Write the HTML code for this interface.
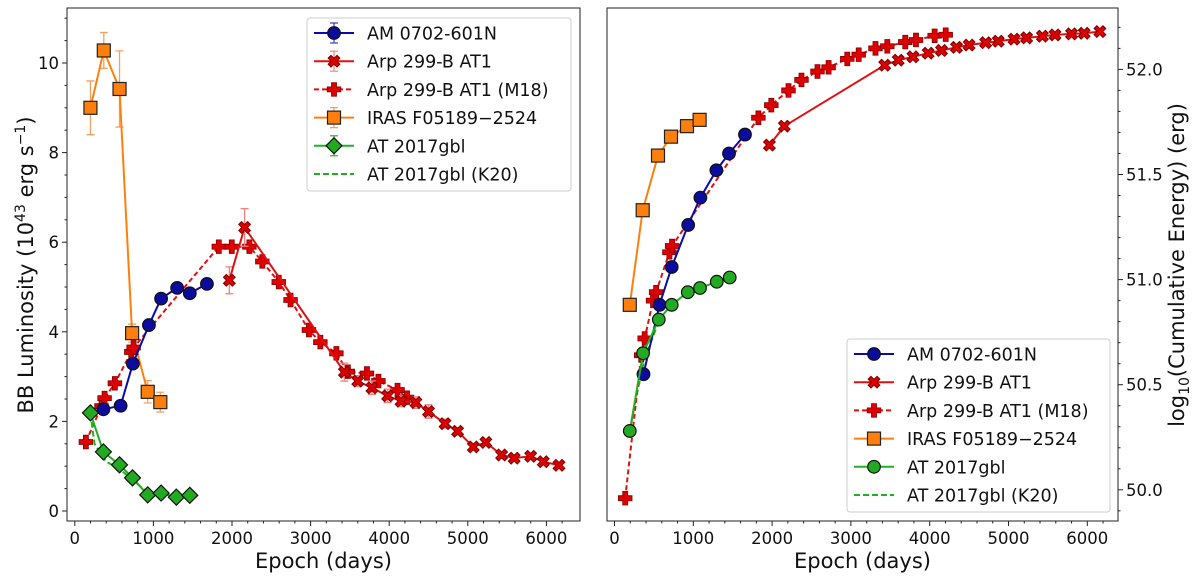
<!DOCTYPE html>
<html><head><meta charset="utf-8">
<style>
body{margin:0;background:#fff;}
svg{display:block;font-family:"DejaVu Sans","Liberation Sans",sans-serif;}
</style></head>
<body>
<svg id="chart" width="1200" height="580" viewBox="0 0 1200 580"></svg>
<script>
// ---------- Left panel data: BB luminosity (1e43 erg/s) ----------
const amEpochL = [364, 583, 739, 943, 1098, 1302, 1463, 1681];
const amLumL   = [2.27, 2.35, 3.29, 4.15, 4.74, 4.98, 4.86, 5.07];
const arpEpochL = [1966, 2160, 3430, 3600, 3780, 3980, 4150, 4340, 4500, 4710, 4870, 5070, 5230, 5430, 5590, 5800, 5960, 6160];
const arpLumL   = [5.15, 6.33, 3.10, 2.90, 2.75, 2.57, 2.45, 2.42, 2.22, 1.95, 1.78, 1.43, 1.53, 1.25, 1.18, 1.22, 1.10, 1.02];
const arpErrL   = [0.3, 0.42, 0.2, 0.12, 0.15, 0.15, 0.12, 0.13, 0.15, 0.1, 0.08, 0.07, 0.06, 0.06, 0.05, 0.06, 0.05, 0.05];
const m18EpochL = [141, 340, 379, 510, 719, 748, 1832, 1997, 2221, 2386, 2595, 2745, 2979, 3124, 3328, 3474, 3717, 3863, 4106, 4227];
const m18LumL   = [1.54, 2.34, 2.52, 2.85, 3.55, 3.65, 5.90, 5.90, 5.90, 5.57, 5.11, 4.71, 4.04, 3.77, 3.52, 3.11, 3.07, 2.90, 2.70, 2.53];
const irasEpochL = [199, 369, 569, 729, 928, 1088];
const irasLumL   = [9.00, 10.28, 9.42, 3.97, 2.66, 2.43];
const irasErrL   = [0.6, 0.4, 0.85, 0.2, 0.25, 0.22];
const gblEpochL = [199, 364, 569, 734, 928, 1098, 1292, 1463];
const gblLumL   = [2.19, 1.32, 1.03, 0.74, 0.36, 0.40, 0.31, 0.35];
const k20EpochL = [199, 250, 400, 560, 730, 900, 1000];
const k20LumL   = [2.19, 1.50, 1.10, 0.95, 0.70, 0.45, 0.40];
const yTicksL = [0, 2, 4, 6, 8, 10];
const xTicks = [0, 1000, 2000, 3000, 4000, 5000, 6000];

// ---------- Right panel data: log10 cumulative energy ----------
const amEpochR = [368, 571, 726, 935, 1090, 1293, 1453, 1656];
const amLogR   = [50.55, 50.88, 51.06, 51.26, 51.39, 51.52, 51.60, 51.69];
const arpEpochR = [1966, 2155, 3429, 3600, 3787, 3980, 4150, 4340, 4500, 4710, 4870, 5070, 5230, 5430, 5590, 5800, 5960, 6160];
const arpLogR   = [51.64, 51.73, 52.02, 52.044, 52.06, 52.077, 52.09, 52.105, 52.116, 52.127, 52.134, 52.144, 52.15, 52.158, 52.164, 52.169, 52.172, 52.18];
const m18EpochR = [136, 339, 383, 489, 528, 697, 731, 1826, 1990, 2208, 2373, 2576, 2717, 2954, 3099, 3312, 3462, 3690, 3826, 4063, 4203];
const m18LogR   = [49.96, 50.64, 50.72, 50.90, 50.94, 51.13, 51.16, 51.77, 51.83, 51.90, 51.95, 51.99, 52.01, 52.05, 52.07, 52.10, 52.11, 52.13, 52.14, 52.16, 52.165];
const irasEpochR = [194, 358, 552, 717, 920, 1080];
const irasLogR   = [50.88, 51.33, 51.59, 51.68, 51.73, 51.76];
const gblEpochR = [194, 363, 562, 726, 930, 1085, 1298, 1462];
const gblLogR   = [50.28, 50.65, 50.81, 50.88, 50.94, 50.96, 50.99, 51.01];
const k20EpochR = [194, 280, 380, 560];
const k20LogR   = [50.28, 50.45, 50.62, 50.80];
const yTicksR = [50.0, 50.5, 51.0, 51.5, 52.0];

const NS = "http://www.w3.org/2000/svg";
const svg = document.getElementById('chart');
function mk(tag, attrs, parent, text){
  const e = document.createElementNS(NS, tag);
  for (const k in attrs) e.setAttribute(k, attrs[k]);
  if (text !== undefined) e.textContent = text;
  (parent || svg).appendChild(e);
  return e;
}

const xL = v => 74.8 + v * 0.0786;
const yL = v => 511 - v * 44.8;
const xR = v => 614.5 + v * 0.0788;
const yR = v => 489.8 - (v - 50) * 210.2;

const C = {blue:'#0a0aa8', bluef:'#0b0b9e', red:'#e01010', redf:'#dd0000', orange:'#ff7f0e', green:'#22b022', greenf:'#22aa22'};

function marker(g, type, x, y, fill){
  let e;
  if (type === 'circle') e = mk('circle', {cx:x, cy:y, r:6.3, fill:fill, stroke:'#111', 'stroke-width':1.2}, g);
  else if (type === 'square') e = mk('rect', {x:x-6.5, y:y-6.5, width:13, height:13, fill:fill, stroke:'#222', 'stroke-width':1.2}, g);
  else if (type === 'diamond') e = mk('path', {d:`M${x} ${y-8}L${x+8} ${y}L${x} ${y+8}L${x-8} ${y}Z`, fill:fill, stroke:'#111', 'stroke-width':1.2}, g);
  else if (type === 'plus') {
    const a=2.5, b=6.8;
    e = mk('path', {d:`M${x-a} ${y-b}H${x+a}V${y-a}H${x+b}V${y+a}H${x+a}V${y+b}H${x-a}V${y+a}H${x-b}V${y-a}H${x-a}Z`, fill:fill, stroke:'#8a0000', 'stroke-width':0.8}, g);
  } else if (type === 'x') {
    const s=4.8;
    e = mk('path', {d:`M${x-s} ${y-s}L${x+s} ${y+s}M${x+s} ${y-s}L${x-s} ${y+s}`, stroke:'#7a0000', 'stroke-width':5, 'stroke-linecap':'butt', fill:'none'}, g);
    mk('path', {d:`M${x-s+0.8} ${y-s+0.8}L${x+s-0.8} ${y+s-0.8}M${x+s-0.8} ${y-s+0.8}L${x-s+0.8} ${y+s-0.8}`, stroke:fill, 'stroke-width':3.2, fill:'none'}, g);
  }
  
  
}

function series(name, xs, ys, fx, fy, color, dash, mtype, mfill, errs, errColor){
  const g = mk('g', {}, svg);
  
  
  if (errs) {
    xs.forEach((v,i)=>{
      const X=fx(v), y1=fy(ys[i]-errs[i]), y2=fy(ys[i]+errs[i]);
      mk('path', {d:`M${X} ${y1}V${y2}M${X-4} ${y1}H${X+4}M${X-4} ${y2}H${X+4}`, stroke:errColor, 'stroke-width':1.3, fill:'none'}, g);
    });
  }
  const pts = xs.map((v,i)=>fx(v).toFixed(1)+','+fy(ys[i]).toFixed(1)).join(' ');
  mk('polyline', {points:pts, fill:'none', stroke:color, 'stroke-width':2, 'stroke-dasharray':dash||'none'}, g);
  if (mtype) xs.forEach((v,i)=>marker(g, mtype, fx(v), fy(ys[i]), mfill));
}

function axes(prefix, x0, y0, x1, y1, fx, fy, yticks, ydec, side, minorY){
  const g = mk('g', {}, svg);
  
  
  mk('rect', {x:x0, y:y0, width:x1-x0, height:y1-y0, fill:'none', stroke:'#222', 'stroke-width':1}, g);
  xTicks.forEach(t=>{
    const X = fx(t);
    mk('line', {x1:X, y1:y1, x2:X, y2:y1+5, stroke:'#222'}, g);
    const tl = mk('text', {x:X, y:y1+23, 'font-size':16.5, 'text-anchor':'middle', fill:'#111'}, g, String(t));
    
    
  });
  for (let t=0; t<=6200; t+=200){ if (t%1000) { const X=fx(t); if (X<x1) mk('line', {x1:X, y1:y1, x2:X, y2:y1+2.5, stroke:'#222'}, g);} }
  yticks.forEach(t=>{
    const Y = fy(t);
    if (side==='left'){
      mk('line', {x1:x0-5, y1:Y, x2:x0, y2:Y, stroke:'#222'}, g);
      const tl = mk('text', {x:x0-8, y:Y+6, 'font-size':16.5, 'text-anchor':'end', fill:'#111'}, g, t.toFixed(ydec));
      
      
    } else {
      mk('line', {x1:x1, y1:Y, x2:x1+5, y2:Y, stroke:'#222'}, g);
      const tl = mk('text', {x:x1+8, y:Y+6, 'font-size':16.5, 'text-anchor':'start', fill:'#111'}, g, t.toFixed(ydec));
      
      
    }
  });
  minorY.forEach(t=>{
    const Y=fy(t);
    if (Y>y0 && Y<y1){
      if (side==='left') mk('line', {x1:x0-2.5, y1:Y, x2:x0, y2:Y, stroke:'#222'}, g);
      else mk('line', {x1:x1, y1:Y, x2:x1+2.5, y2:Y, stroke:'#222'}, g);
    }
  });
  const xl = mk('text', {x:(x0+x1)/2, y:568, 'font-size':21, 'text-anchor':'middle', fill:'#111'}, g, 'Epoch (days)');
  
  
}

// ---- Left panel ----
const minorL=[]; for(let v=-0.5; v<=11.2; v+=0.5) if (Math.abs(v%2)>0.01) minorL.push(v);
axes('left', 67, 8, 580, 521, xL, yL, yTicksL, 0, 'left', minorL);
const ylabL = mk('text', {x:0, y:0, transform:'translate(33,265) rotate(-90)', 'font-size':21, 'text-anchor':'middle', fill:'#111'});
ylabL.innerHTML = 'BB Luminosity (10<tspan dy="-8" font-size="14">43</tspan><tspan dy="8"> erg s</tspan><tspan dy="-8" font-size="14">−1</tspan><tspan dy="8">)</tspan>';



series('series-iras-left', irasEpochL, irasLumL, xL, yL, C.orange, null, 'square', C.orange, irasErrL, '#f5a060');
series('series-m18-left', m18EpochL, m18LumL, xL, yL, C.red, '5,3', 'plus', C.redf, null, null);
series('series-am0702-left', amEpochL, amLumL, xL, yL, C.blue, null, 'circle', C.bluef, amLumL.map(()=>0.08), '#4040c0');
series('series-arp299-left', arpEpochL, arpLumL, xL, yL, C.red, null, 'x', C.redf, arpErrL, '#f08080');
series('series-k20-left', k20EpochL, k20LumL, xL, yL, C.green, '6,3', null, null, null, null);
series('series-at2017gbl-left', gblEpochL, gblLumL, xL, yL, C.green, null, 'diamond', C.greenf, null, null);

// ---- Right panel ----
const minorR=[]; for(let v=49.9; v<=52.3; v+=0.1){ const r=Math.round(v*10)/10; if (Math.abs((r*2)%1)>0.01) minorR.push(r);}
axes('right', 607, 8, 1118, 521, xR, yR, yTicksR, 1, 'right', minorR);
const ylabR = mk('text', {x:0, y:0, transform:'translate(1184,265) rotate(-90)', 'font-size':21, 'text-anchor':'middle', fill:'#111'});
ylabR.innerHTML = 'log<tspan dy="5" font-size="14">10</tspan><tspan dy="-5">(Cumulative Energy) (erg)</tspan>';



series('series-k20-right', k20EpochR, k20LogR, xR, yR, C.green, '6,3', null, null, null, null);
series('series-m18-right', m18EpochR, m18LogR, xR, yR, C.red, '5,3', 'plus', C.redf, null, null);
series('series-iras-right', irasEpochR, irasLogR, xR, yR, C.orange, null, 'square', C.orange, null, null);
series('series-am0702-right', amEpochR, amLogR, xR, yR, C.blue, null, 'circle', C.bluef, null, null);
series('series-arp299-right', arpEpochR, arpLogR, xR, yR, C.red, null, 'x', C.redf, null, null);
series('series-at2017gbl-right', gblEpochR, gblLogR, xR, yR, C.green, null, 'circle', C.greenf, null, null);

// ---- Legends ----
const legLabels = ['AM 0702-601N', 'Arp 299-B AT1', 'Arp 299-B AT1 (M18)', 'IRAS F05189\u22122524', 'AT 2017gbl', 'AT 2017gbl (K20)'];
const legColors = [C.blue, C.red, C.red, C.orange, C.green, C.green];
const legDash = [null, null, '5,3', null, null, '6,3'];
function legend(name, bx, by, bw, bh, rowY0, markersList, withErr){
  const g = mk('g', {}, svg);
  
  
  mk('rect', {x:bx, y:by, width:bw, height:bh, rx:3, fill:'#fff', 'fill-opacity':0.85, stroke:'#ccc', 'stroke-width':1}, g);
  legLabels.forEach((lab,i)=>{
    const y = rowY0 + i*28.2, lx = bx+7;
    const eg = mk('g', {}, g);
    
    
    if (withErr && i<5){
      const ec = ['#4040c0','#f08080','#f08080','#f5a060','#22aa22'][i];
      if (i!==2) mk('path', {d:`M${lx+20} ${y-10}V${y+10}M${lx+16} ${y-10}H${lx+24}M${lx+16} ${y+10}H${lx+24}`, stroke:ec, 'stroke-width':1.2, fill:'none'}, eg);
    }
    mk('line', {x1:lx, y1:y, x2:lx+40, y2:y, stroke:legColors[i], 'stroke-width':2, 'stroke-dasharray':legDash[i]||'none'}, eg);
    if (markersList[i]) marker(eg, markersList[i], lx+20, y, [C.bluef,C.redf,C.redf,C.orange,C.greenf][i]);
    mk('text', {x:lx+53, y:y+6.5, 'font-size':17.5, fill:'#111'}, eg, lab);
  });
}
legend('legend-left', 307, 18, 264, 173, 33, ['circle','x','plus','square','diamond',null], true);
legend('legend-right', 847, 339, 263, 173, 354, ['circle','x','plus','square','circle',null], false);
</script>
</body></html>
